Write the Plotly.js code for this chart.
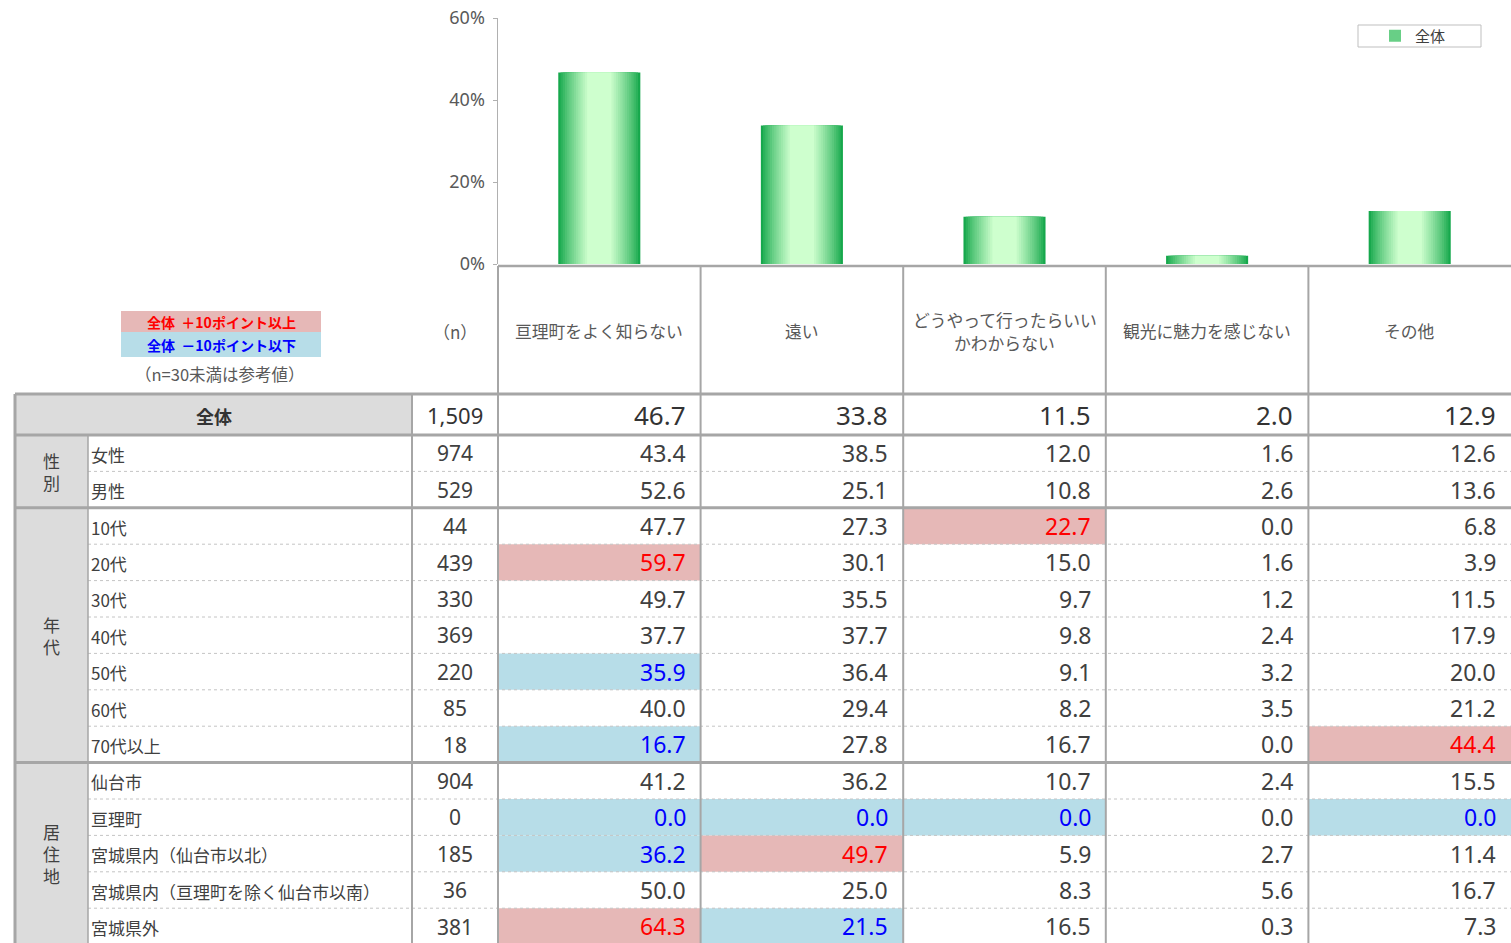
<!DOCTYPE html>
<html>
<head>
<meta charset="utf-8">
<script src="https://cdn.plot.ly/plotly-3.0.1.min.js"></script>
<style>html,body{margin:0;padding:0;background:#fff;}#chart{width:1511px;height:943px;}</style>
</head>
<body>
<div id="chart"></div>
<script>
// ---------- DATA ----------
const categories = ['亘理町をよく知らない', '遠い', 'どうやって行ったらいいかわからない', '観光に魅力を感じない', 'その他'];
const headerLines = [['亘理町をよく知らない'], ['遠い'], ['どうやって行ったらいい', 'かわからない'], ['観光に魅力を感じない'], ['その他']];
const overallValues = [46.7, 33.8, 11.5, 2.0, 12.9];
const overallN = 1509;

const groupNames = ['性<br>別', '年<br>代', '居<br>住<br>地'];
const groupSizes = [2, 7, 5];

const rowLabels = ['女性', '男性', '10代', '20代', '30代', '40代', '50代', '60代', '70代以上',
  '仙台市', '亘理町', '宮城県内（仙台市以北）', '宮城県内（亘理町を除く仙台市以南）', '宮城県外'];
const rowN = [974, 529, 44, 439, 330, 369, 220, 85, 18, 904, 0, 185, 36, 381];

const valKnow     = [43.4, 52.6, 47.7, 59.7, 49.7, 37.7, 35.9, 40.0, 16.7, 41.2, 0.0, 36.2, 50.0, 64.3];
const valFar      = [38.5, 25.1, 27.3, 30.1, 35.5, 37.7, 36.4, 29.4, 27.8, 36.2, 0.0, 49.7, 25.0, 21.5];
const valHow      = [12.0, 10.8, 22.7, 15.0, 9.7, 9.8, 9.1, 8.2, 16.7, 10.7, 0.0, 5.9, 8.3, 16.5];
const valAttract  = [1.6, 2.6, 0.0, 1.6, 1.2, 2.4, 3.2, 3.5, 0.0, 2.4, 0.0, 2.7, 5.6, 0.3];
const valOther    = [12.6, 13.6, 6.8, 3.9, 11.5, 17.9, 20.0, 21.2, 44.4, 15.5, 0.0, 11.4, 16.7, 7.3];
const valueColumns = [valKnow, valFar, valHow, valAttract, valOther];

const yTickVals = [0, 20, 40, 60];
const yTickText = ['0%', '20%', '40%', '60%'];

// ---------- LAYOUT CONSTANTS (pixels) ----------
const W = 1511, H = 943;
const COL_EDGES = [498, 700.6, 903.2, 1105.8, 1308.4, 1511];
const X_TABLE_L = 15, X_GROUP_R = 88, X_LABEL_R = 412, X_N_R = 498;
const Y_HEAD_T = 266, Y_TOTAL_T = 394, Y_ROWS_T = 435, ROW_H = 36.4;
const PLOT_TOP = 18, PLOT_BOTTOM = 264;

const FONT_JP = '"Noto Sans CJK JP", "Noto Sans", sans-serif';
const FONT_NUM = '"Noto Sans", "Noto Sans CJK JP", sans-serif';
const TXT = '#404040';
const GRID = '#a6a6a6';
const PINK = '#e6b8b7', BLUE = '#b7dde8';

// ---------- BARS (layered overlay to imitate a horizontal gradient) ----------
const traces = [];
const N_LAYERS = 14;
const dark = [22, 168, 76], light = [206, 255, 206];
for (let k = 0; k < N_LAYERS; k++) {
  const t = k / (N_LAYERS - 1);
  const w = 0.405 - t * (0.405 - 0.12);
  const c = dark.map((d, i) => Math.round(d + (light[i] - d) * Math.pow(t, 0.85)));
  traces.push({
    type: 'bar', x: categories, y: overallValues,
    width: categories.map(() => w),
    marker: {color: `rgb(${c[0]},${c[1]},${c[2]})`, line: {width: 0}},
    name: '全体', showlegend: k === 5, hoverinfo: k === 0 ? 'x+y' : 'skip',
    xaxis: 'x', yaxis: 'y'
  });
}

// ---------- TABLE ----------
const shapes = [];
const annotations = [];
const rowTop = i => Y_ROWS_T + ROW_H * i;
const rowMid = i => rowTop(i) + ROW_H / 2 + 1;
const nRows = rowLabels.length;
const yBottom = rowTop(nRows);

function rect(x0, y0, x1, y1, fill, layer) {
  shapes.push({type: 'rect', xref: 'x2', yref: 'y2', x0, y0, x1, y1, fillcolor: fill, line: {width: 0}, layer: layer || 'below'});
}
function line(x0, y0, x1, y1, color, width, dash) {
  shapes.push({type: 'line', xref: 'x2', yref: 'y2', x0, y0, x1, y1, line: {color, width, dash: dash || 'solid'}, layer: 'above'});
}
function text(x, y, s, opts) {
  annotations.push(Object.assign({xref: 'x2', yref: 'y2', x, y, text: s, showarrow: false,
    xanchor: 'center', yanchor: 'middle', font: {family: FONT_JP, size: 16, color: TXT}}, opts || {}));
}

// gray backgrounds
rect(X_TABLE_L, Y_TOTAL_T, X_LABEL_R, Y_ROWS_T, '#dcdcdc');
rect(X_TABLE_L, Y_ROWS_T, X_GROUP_R, yBottom, '#dcdcdc');

// highlighted cells
valueColumns.forEach((col, c) => {
  col.forEach((v, r) => {
    const d = v - overallValues[c];
    if (d >= 10) rect(COL_EDGES[c], rowTop(r), COL_EDGES[c + 1], rowTop(r + 1), PINK);
    else if (d <= -10) rect(COL_EDGES[c], rowTop(r), COL_EDGES[c + 1], rowTop(r + 1), BLUE);
  });
});

// legend notes (left)
rect(121, 311, 321, 332, PINK);
rect(121, 332, 321, 357, BLUE);
text(221, 322, '<b>全体  ＋10ポイント以上</b>', {font: {family: FONT_JP, size: 14, color: '#ff0000'}});
text(221, 345, '<b>全体  －10ポイント以下</b>', {font: {family: FONT_JP, size: 14, color: '#0000ff'}});
text(220, 374, '（n=30未満は参考値）', {font: {family: FONT_JP, size: 16.5, color: '#595959'}});

// header
text((X_LABEL_R + X_N_R) / 2, 331, '（n）', {font: {family: FONT_JP, size: 17, color: '#595959'}});
headerLines.forEach((lines, c) => {
  const xc = (COL_EDGES[c] + COL_EDGES[c + 1]) / 2;
  lines.forEach((s, li) => {
    const y = 331 + (li - (lines.length - 1) / 2) * 23;
    text(xc, y, s, {font: {family: FONT_JP, size: 16.8, color: '#595959'}});
  });
});

// total row
const totalMid = (Y_TOTAL_T + Y_ROWS_T) / 2;
text((X_TABLE_L + X_LABEL_R) / 2, totalMid + 1, '<b>全体</b>', {font: {family: FONT_JP, size: 18, color: '#333333'}});
text((X_LABEL_R + X_N_R) / 2, totalMid, overallN.toLocaleString('en-US'), {font: {family: FONT_NUM, size: 22, color: '#333333'}});
overallValues.forEach((v, c) => {
  text(COL_EDGES[c + 1] - 13, totalMid, v.toFixed(1), {xanchor: 'right', font: {family: FONT_NUM, size: 26, color: '#333333'}});
});

// group labels
let start = 0;
groupNames.forEach((g, gi) => {
  const end = start + groupSizes[gi];
  const yc = (rowTop(start) + rowTop(end)) / 2;
  text((X_TABLE_L + X_GROUP_R) / 2, yc, g, {font: {family: FONT_JP, size: 17, color: TXT}});
  start = end;
});

// row labels
rowLabels.forEach((lab, r) => {
  text(X_GROUP_R + 1, rowMid(r), lab, {xanchor: 'left', font: {family: FONT_JP, size: 17, color: TXT}});
});
// n values as a text trace (anchors the table axes)
traces.push({
  type: 'scatter', mode: 'text', xaxis: 'x2', yaxis: 'y2',
  x: rowN.map(() => (X_LABEL_R + X_N_R) / 2), y: rowN.map((_, r) => rowMid(r) + 2),
  text: rowN.map(n => n.toLocaleString('en-US')), textposition: 'middle center',
  textfont: {family: FONT_NUM, size: 21, color: TXT}, showlegend: false, hoverinfo: 'skip'
});
// values
valueColumns.forEach((col, c) => {
  col.forEach((v, r) => {
    const d = v - overallValues[c];
    const color = d >= 10 ? '#ff0000' : (d <= -10 ? '#0000ff' : TXT);
    text(COL_EDGES[c + 1] - 13, rowMid(r) - 1, v.toFixed(1), {xanchor: 'right', font: {family: FONT_NUM, size: 23, color}});
  });
});

// dotted separators inside groups
start = 0;
groupSizes.forEach(sz => {
  for (let r = start + 1; r < start + sz; r++) line(X_GROUP_R, rowTop(r), W, rowTop(r), '#c4c4c4', 1, 'dot');
  start += sz;
});

// solid borders
line(COL_EDGES[0], Y_HEAD_T, W, Y_HEAD_T, GRID, 2.5);
line(X_TABLE_L, Y_TOTAL_T, W, Y_TOTAL_T, GRID, 3);
line(X_TABLE_L, Y_ROWS_T, W, Y_ROWS_T, GRID, 3);
start = 0;
groupSizes.forEach((sz, gi) => {
  if (gi > 0) line(X_TABLE_L, rowTop(start), W, rowTop(start), GRID, 3);
  start += sz;
});
line(X_TABLE_L, Y_TOTAL_T, X_TABLE_L, yBottom, GRID, 3);
line(X_GROUP_R, Y_ROWS_T, X_GROUP_R, yBottom, GRID, 1.5);
line(X_LABEL_R, Y_TOTAL_T, X_LABEL_R, yBottom, GRID, 2);
COL_EDGES.slice(0, 5).forEach(x => line(x, Y_HEAD_T, x, yBottom, GRID, 2));

// legend box
shapes.push({type: 'rect', xref: 'x2', yref: 'y2', x0: 1358, x1: 1481, y0: 25, y1: 47, line: {color: '#bfbfbf', width: 1}, fillcolor: 'rgba(0,0,0,0)', layer: 'below'});

const layout = {
  width: W, height: H,
  margin: {l: 0, r: 0, t: 0, b: 0, pad: 0},
  paper_bgcolor: '#ffffff', plot_bgcolor: 'rgba(0,0,0,0)',
  barmode: 'overlay',
  font: {family: FONT_JP, color: TXT},
  showlegend: true,
  legend: {x: 1375 / W, y: 1 - 36 / H, xanchor: 'left', yanchor: 'middle', bgcolor: 'rgba(0,0,0,0)',
    borderwidth: 0, font: {family: FONT_JP, size: 15, color: '#404040'}, itemwidth: 30},
  xaxis: {domain: [COL_EDGES[0] / W, 1], type: 'category', range: [-0.5, 4.5],
    showticklabels: false, showline: false, showgrid: false, zeroline: false, ticks: '', fixedrange: true},
  yaxis: {domain: [1 - PLOT_BOTTOM / H, 1 - PLOT_TOP / H], range: [0, 60], tickmode: 'array', tickvals: yTickVals, ticktext: yTickText,
    showgrid: false, zeroline: false, showline: true, linecolor: '#b0b0b0', linewidth: 1.5,
    ticks: 'outside', ticklen: 4, tickcolor: '#b0b0b0', ticklabelstandoff: 4,
    tickfont: {family: FONT_NUM, size: 18, color: '#595959'}, fixedrange: true},
  xaxis2: {domain: [0, 1], range: [0, W], visible: false, anchor: 'y2', fixedrange: true},
  yaxis2: {domain: [0, 1], range: [H, 0], visible: false, anchor: 'x2', fixedrange: true},
  shapes, annotations
};

Plotly.newPlot('chart', traces, layout, {displayModeBar: false, staticPlot: true});
</script>
</body>
</html>
